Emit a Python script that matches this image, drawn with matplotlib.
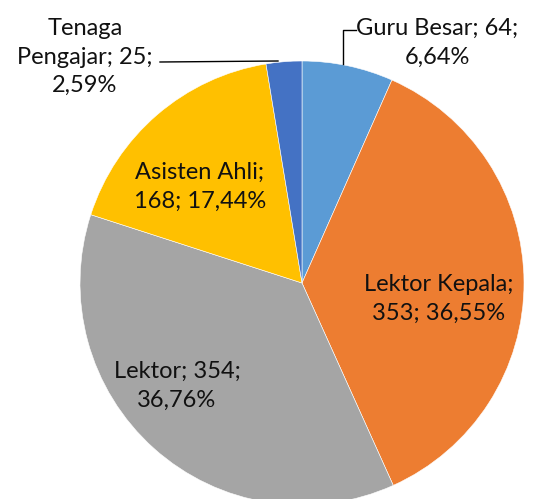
import matplotlib.pyplot as plt

categories = ["Guru Besar", "Lektor Kepala", "Lektor", "Asisten Ahli", "Tenaga Pengajar"]
counts = [64, 353, 354, 168, 25]
label_texts = [
    "Guru Besar; 64;\n6,64%",
    "Lektor Kepala;\n353; 36,55%",
    "Lektor; 354;\n36,76%",
    "Asisten Ahli;\n168; 17,44%",
    "Tenaga\nPengajar; 25;\n2,59%",
]
colors = ["#5B9BD5", "#ED7D31", "#A5A5A5", "#FFC000", "#4472C4"]

W, H = 534, 499


def main():
    plt.rcParams['font.family'] = ['Lato', 'DejaVu Sans']
    fig = plt.figure(figsize=(W / 100, H / 100), dpi=100)
    ax = fig.add_axes([0, 0, 1, 1])

    cx, cy, r = 302, H - 283, 222
    ax.pie(counts, colors=colors, startangle=90, counterclock=False,
           center=(cx, cy), radius=r, frame=True,
           wedgeprops=dict(edgecolor='white', linewidth=0.4))
    ax.set_xlim(0, W)
    ax.set_ylim(0, H)
    ax.set_aspect('equal')
    ax.axis('off')

    # label positions in pixels (x, y from top)
    pos = [(437, 43), (439, 299), (177, 386), (200, 187), (85, 57)]
    for txt, (px, py) in zip(label_texts, pos):
        ax.text(px, H - py, txt, ha='center', va='center', fontsize=17,
                color='#111111', linespacing=1.45)

    # leader lines
    ax.plot([356, 343, 343], [H - 30, H - 30, H - 64], color='black', lw=1)
    ax.plot([160, 278], [H - 62, H - 61], color='black', lw=1)

    fig.savefig('out.png', dpi=100)


if __name__ == "__main__":
    main()
